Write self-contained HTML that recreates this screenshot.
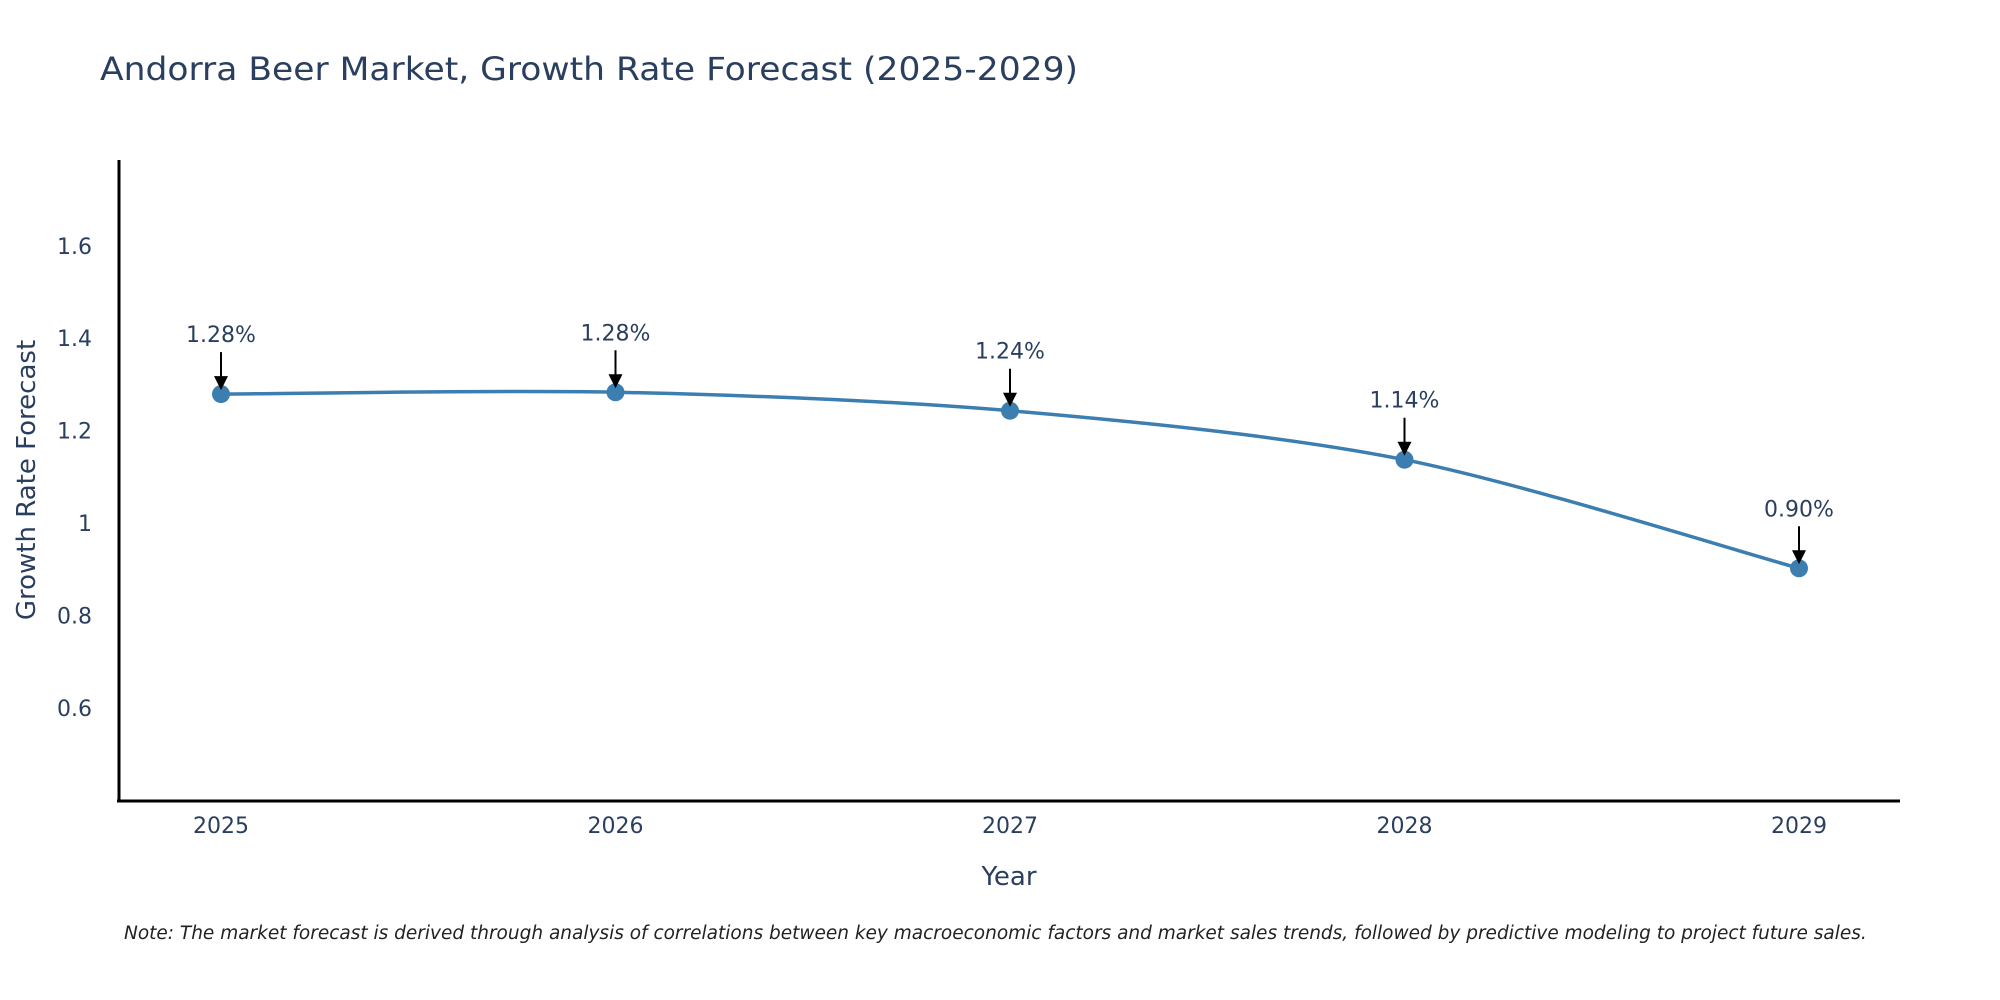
<!DOCTYPE html>
<html><head><meta charset="utf-8"><style>
html,body{margin:0;padding:0;background:#fff;}
svg{display:block;font-family:"DejaVu Sans","Liberation Sans",sans-serif;}
</style></head><body>
<svg id="chart" width="2000" height="1000" viewBox="0 0 2000 1000" xmlns="http://www.w3.org/2000/svg">
<rect width="2000" height="1000" fill="#fff"/>
<text x="100" y="80" font-size="32" fill="#2a3f5f" textLength="978" lengthAdjust="spacingAndGlyphs">Andorra Beer Market, Growth Rate Forecast (2025-2029)</text>
<g id="yticks"></g><g id="xticks"></g>
<line x1="119" y1="160" x2="119" y2="802" stroke="#000" stroke-width="3"/>
<line x1="117" y1="801" x2="1900" y2="801" stroke="#000" stroke-width="3"/>
<g id="series"></g>
<g id="annotations"></g>
<text x="1009" y="885" font-size="26" fill="#2a3f5f" text-anchor="middle">Year</text>
<text transform="translate(35,480) rotate(-90)" font-size="26" fill="#2a3f5f" text-anchor="middle">Growth Rate Forecast</text>
<text x="124" y="939" font-size="18.5" font-style="italic" fill="#222">Note: The market forecast is derived through analysis of correlations between key macroeconomic factors and market sales trends, followed by predictive modeling to project future sales.</text>
</svg>
<script>
const years = [2025, 2026, 2027, 2028, 2029];
const growth = [1.279, 1.283, 1.243, 1.137, 0.902];
const labels = ["1.28%", "1.28%", "1.24%", "1.14%", "0.90%"];
const yTicks = [0.6, 0.8, 1, 1.2, 1.4, 1.6];
const yTickLabels = ["0.6", "0.8", "1", "1.2", "1.4", "1.6"];

const NS = "http://www.w3.org/2000/svg";
function xs(v){ return 221 + (v - 2025) * 394.5; }
function ys(v){ return 523 - (v - 1) * 462; }
function mk(tag, attrs, parent){ const e = document.createElementNS(NS, tag); for (const k in attrs) e.setAttribute(k, attrs[k]); parent.appendChild(e); return e; }

const yg = document.getElementById('yticks');
yTicks.forEach((t, i) => {
  const el = mk('text', {x: 92, y: ys(t) + 8, 'font-size': 22, fill: '#2a3f5f', 'text-anchor': 'end'}, yg);
  
  
  el.textContent = yTickLabels[i];
});
const xg = document.getElementById('xticks');
years.forEach(y => {
  const el = mk('text', {x: xs(y), y: 833, 'font-size': 22, fill: '#2a3f5f', 'text-anchor': 'middle'}, xg);
  
  
  el.textContent = String(y);
});

const pts = years.map((y, i) => [xs(y), ys(growth[i])]);
let d = 'M' + pts[0][0] + ',' + pts[0][1];
for (let i = 0; i < pts.length - 1; i++) {
  const p0 = pts[Math.max(0, i - 1)], p1 = pts[i], p2 = pts[i + 1], p3 = pts[Math.min(pts.length - 1, i + 2)];
  const s = 0.15;
  const c1 = [p1[0] + (p2[0] - p0[0]) * s, p1[1] + (p2[1] - p0[1]) * s];
  const c2 = [p2[0] - (p3[0] - p1[0]) * s, p2[1] - (p3[1] - p1[1]) * s];
  d += ' C' + c1.join(',') + ' ' + c2.join(',') + ' ' + p2.join(',');
}
const sg = document.getElementById('series');
const line = mk('path', {d: d, fill: 'none', stroke: '#3d7eb0', 'stroke-width': 3.5}, sg);


pts.forEach(p => {
  const c = mk('circle', {cx: p[0], cy: p[1], r: 9, fill: '#3d7eb0'}, sg);
  
  
});

const ag = document.getElementById('annotations');
pts.forEach((p, i) => {
  const t = mk('text', {x: p[0], y: p[1] - 52, 'font-size': 22, fill: '#2a3f5f', 'text-anchor': 'middle'}, ag);
  
  
  t.textContent = labels[i];
  const l = mk('line', {x1: p[0], y1: p[1] - 42, x2: p[0], y2: p[1] - 16, stroke: '#000', 'stroke-width': 2}, ag);
  
  
  const h = mk('polygon', {points: (p[0]-7)+','+(p[1]-18)+' '+(p[0]+7)+','+(p[1]-18)+' '+p[0]+','+(p[1]-4), fill: '#000'}, ag);
  
  
});
</script>
</body></html>
